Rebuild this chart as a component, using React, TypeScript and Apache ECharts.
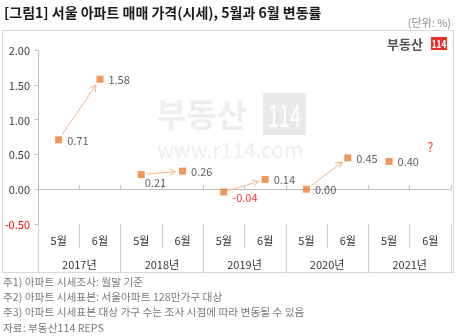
import React, { useEffect, useRef } from "react";
import * as echarts from "echarts";

const months = ["5월", "6월", "5월", "6월", "5월", "6월", "5월", "6월", "5월", "6월"];
const years = ["2017년", "2018년", "2019년", "2020년", "2021년"];
const values: (number | null)[] = [0.71, 1.58, 0.21, 0.26, -0.04, 0.14, 0.0, 0.45, 0.4, null];
const pendingIndex = 9;
const pendingLevel = 0.62;
const yTicks = { min: -0.5, max: 2.0, interval: 0.5 };
const notes = [
  "주1) 아파트 시세조사: 월말 기준",
  "주2) 아파트 시세표본: 서울아파트 128만가구 대상",
  "주3) 아파트 시세표본 대상 가구 수는 조사 시점에 따라 변동될 수 있음",
  "자료: 부동산114 REPS",
];

const FONT = "'Noto Sans CJK KR', 'Noto Sans', sans-serif";
const ORANGE = "#ED7D31";
const ARROW = "#F4B183";

export default function App() {
  const ref = useRef<HTMLDivElement>(null);
  useEffect(() => {
    if (!ref.current) return;
    const chart = echarts.init(ref.current, null, { renderer: "svg" });

    const arrows: number[][] = [];
    for (let i = 0; i + 1 < values.length; i += 2) {
      const a = values[i];
      const b = values[i + 1];
      if (a !== null && b !== null) arrows.push([i, a, i + 1, b]);
    }

    const pointData = values.map((v, i) => {
      if (v === null) return [i, null];
      const item: any = { value: [i, v] };
      if (v < 0) {
        item.label = { color: "#FF0000", offset: [0, 5] };
      } else if (i === 2) {
        item.label = { offset: [-5, 7] };
      }
      return item;
    });

    chart.setOption({
      animation: false,
      textStyle: { fontFamily: FONT },
      grid: { left: 38, right: 6, top: 50, bottom: 112 },
      xAxis: [
        {
          type: "category",
          data: months,
          position: "bottom",
          axisLine: { onZero: true, lineStyle: { color: "#BFBFBF" } },
          axisTick: { show: true, inside: true, length: 4, interval: 0, lineStyle: { color: "#BFBFBF" } },
          axisLabel: { show: false },
          splitLine: { show: false },
        },
        {
          type: "category",
          data: months,
          position: "bottom",
          axisLine: { show: false, onZero: false },
          axisTick: { show: true, length: 24, interval: 0, lineStyle: { color: "#D0D0D0" } },
          axisLabel: { show: true, interval: 0, margin: 10, color: "#333", fontSize: 11, fontFamily: FONT },
          splitLine: { show: false },
        },
        {
          type: "category",
          data: years,
          position: "bottom",
          axisLine: { show: false, onZero: false },
          axisTick: { show: true, length: 49, interval: 0, lineStyle: { color: "#D0D0D0" } },
          axisLabel: { show: true, interval: 0, margin: 34, color: "#333", fontSize: 11, fontFamily: FONT },
          splitLine: { show: false },
        },
      ],
      yAxis: {
        type: "value",
        min: yTicks.min,
        max: yTicks.max,
        interval: yTicks.interval,
        axisLine: { show: true, lineStyle: { color: "#BFBFBF" } },
        axisTick: { show: true, length: 3, lineStyle: { color: "#BFBFBF" } },
        splitLine: { show: false },
        axisLabel: {
          margin: 8,
          fontSize: 11,
          fontFamily: FONT,
          formatter: (v: number) => v.toFixed(2),
          color: (v: any) => (Number(v) < 0 ? "#FF0000" : "#404040"),
        },
      },
      graphic: [
        {
          type: "rect",
          z: 0,
          shape: { x: 2.5, y: 30.5, width: 451, height: 242 },
          style: { fill: "none", stroke: "#D9D9D9", lineWidth: 1 },
        },
        {
          type: "text",
          z: 0,
          left: 4,
          top: 5,
          style: { text: "[그림1] 서울 아파트 매매 가격(시세), 5월과 6월 변동률", font: `bold 14px ${FONT}`, fill: "#1a1a1a" },
        },
        {
          type: "text",
          z: 0,
          right: 6,
          top: 16,
          style: { text: "(단위: %)", font: `11px ${FONT}`, fill: "#8c8c8c" },
        },
        // logo
        {
          type: "text",
          z: 0,
          x: 387,
          y: 43.5,
          style: { text: "부동산", font: `bold 13px ${FONT}`, fill: "#555", verticalAlign: "middle" },
        },
        {
          type: "rect",
          z: 0,
          shape: { x: 431, y: 37, width: 16, height: 13 },
          style: { fill: "#E8332A" },
        },
        {
          type: "text",
          z: 1,
          x: 439,
          y: 43.5,
          scaleX: 0.75,
          style: { text: "114", font: `bold 11px ${FONT}`, fill: "#fff", align: "center", verticalAlign: "middle" },
        },
        // watermark
        {
          type: "text",
          z: 0,
          x: 156,
          y: 113,
          style: { text: "부동산", font: `bold 33px ${FONT}`, fill: "#EEEEEE", verticalAlign: "middle", lineHeight: 30 },
        },
        {
          type: "rect",
          z: 0,
          shape: { x: 263, y: 93, width: 43, height: 42 },
          style: { fill: "#EAEAEA" },
        },
        {
          type: "text",
          z: 0,
          x: 284.5,
          y: 114,
          scaleX: 0.65,
          style: { text: "114", font: `30px ${FONT}`, fill: "#fff", align: "center", verticalAlign: "middle", lineHeight: 28 },
        },
        {
          type: "text",
          z: 0,
          x: 157,
          y: 149,
          style: { text: "www.r114.com", font: `21px ${FONT}`, fill: "#EEEEEE", verticalAlign: "middle", lineHeight: 18 },
        },
        ...notes.map((t, i) => ({
          type: "text",
          z: 0,
          left: 3,
          top: 276 + i * 15.3,
          style: { text: t, font: `10.7px ${FONT}`, fill: "#7a7a7a" },
        })),
      ],
      series: [
        {
          type: "custom",
          xAxisIndex: 0,
          yAxisIndex: 0,
          z: 3,
          data: arrows,
          encode: { x: [0, 2], y: [1, 3] },
          renderItem: (params: any, api: any) => {
            const p1 = api.coord([api.value(0), api.value(1)]);
            const p2 = api.coord([api.value(2), api.value(3)]);
            const dx = p2[0] - p1[0];
            const dy = p2[1] - p1[1];
            const len = Math.sqrt(dx * dx + dy * dy) || 1;
            const ux = dx / len;
            const uy = dy / len;
            const s = [p1[0] + ux * 6, p1[1] + uy * 6];
            const e = [p2[0] - ux * 7, p2[1] - uy * 7];
            const ah = 7;
            const ang = Math.PI / 6;
            const cos = Math.cos(ang);
            const sin = Math.sin(ang);
            const l1 = [e[0] - ah * (ux * cos - uy * sin), e[1] - ah * (uy * cos + ux * sin)];
            const l2 = [e[0] - ah * (ux * cos + uy * sin), e[1] - ah * (uy * cos - ux * sin)];
            return {
              type: "group",
              children: [
                {
                  type: "line",
                  shape: { x1: s[0], y1: s[1], x2: e[0], y2: e[1] },
                  style: { stroke: ARROW, lineWidth: 1 },
                },
                {
                  type: "polyline",
                  shape: { points: [l1, e, l2] },
                  style: { stroke: ARROW, lineWidth: 1, fill: "none" },
                },
              ],
            };
          },
        },
        {
          type: "scatter",
          xAxisIndex: 0,
          yAxisIndex: 0,
          z: 4,
          symbol: "rect",
          symbolSize: 7,
          itemStyle: { color: ORANGE },
          data: pointData,
          label: {
            show: true,
            position: "right",
            distance: 5,
            color: "#333",
            fontSize: 11,
            fontFamily: FONT,
            formatter: (p: any) => Number(p.value[1]).toFixed(2),
          },
        },
        {
          type: "scatter",
          xAxisIndex: 0,
          yAxisIndex: 0,
          z: 4,
          symbolSize: 0,
          data: [[pendingIndex, pendingLevel]],
          label: {
            show: true,
            position: "inside",
            formatter: "?",
            color: "#FF0000",
            fontSize: 13,
            fontFamily: FONT,
          },
        },
      ],
    });
    return () => chart.dispose();
  }, []);
  return <div ref={ref} style={{ position: "fixed", left: 0, top: 0, width: 457, height: 336 }} />;
}
